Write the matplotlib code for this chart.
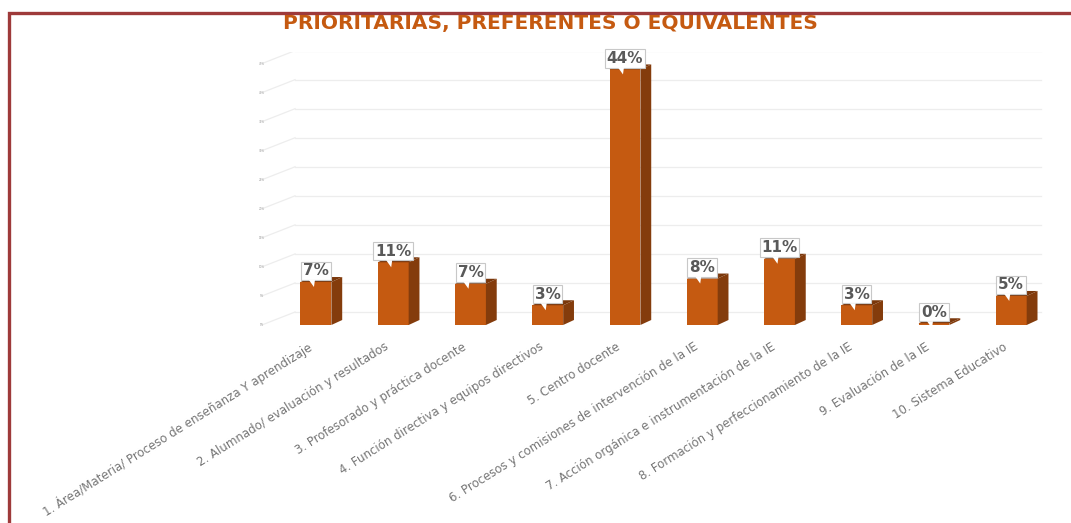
import numpy as np
import matplotlib.pyplot as plt
import matplotlib.transforms as mtransforms
from matplotlib.patches import Polygon, Rectangle

# Data
categorias = [
    "1. Área/Materia/ Proceso de enseñanza Y aprendizaje",
    "2. Alumnado/ evaluación y resultados",
    "3. Profesorado y práctica docente",
    "4. Función directiva y equipos directivos",
    "5. Centro docente",
    "6. Procesos y comisiones de intervención de la IE",
    "7. Acción orgánica e instrumentación de la IE",
    "8. Formación y perfeccionamiento de la IE",
    "9. Evaluación de la IE",
    "10. Sistema Educativo",
]
porcentajes = [7.4, 10.8, 7.1, 3.4, 44.0, 8.0, 11.4, 3.4, 0.3, 5.0]
etiquetas = ["7%", "11%", "7%", "3%", "44%", "8%", "11%", "3%", "0%", "5%"]
y_ticks = [0, 5, 10, 15, 20, 25, 30, 35, 40, 45]

naranja = "#C55A11"
lateral = "#843C0C"
superior = "#7A370B"
gris = "#595959"

plt.rcParams['font.family'] = ['DejaVu Sans']

fig = plt.figure(figsize=(10.71, 5.23), dpi=100)
ax = fig.add_axes([258 / 1071, 198 / 523, (1046 - 258) / 1071, (325 - 52) / 523])
x = np.arange(len(categorias))
ax.set_xlim(-0.75, 9.45)
ax.set_ylim(0, 47)

# perspective gridlines (side wall + back wall)
dx_w, dy_w = 0.43, 2.24
for t in y_ticks:
    ax.plot([-0.70, -0.70 + dx_w], [t, t + dy_w], color="#EDEDED", lw=0.9, zorder=0)
    ax.plot([-0.70 + dx_w, 9.38], [t + dy_w, t + dy_w], color="#EDEDED", lw=0.9, zorder=0)
    ax.text(-0.70, t, f"{t}%", fontsize=2, color="#999999", ha="center", va="center")

# 3D bars
w = 0.40
dx, dy = 0.14, 0.86
ax.bar(x, porcentajes, width=w, color=naranja, zorder=3)
for xi, v in zip(x, porcentajes):
    r = xi + w / 2
    l = xi - w / 2
    ax.add_patch(Polygon([[r, 0], [r + dx, dy], [r + dx, v + dy], [r, v]],
                         closed=True, facecolor=lateral, edgecolor="none", zorder=3))
    ax.add_patch(Polygon([[l, v], [l + dx, v + dy], [r + dx, v + dy], [r, v]],
                         closed=True, facecolor=superior, edgecolor="none", zorder=3))

# data labels (callouts)
for xi, v, lab in zip(x, porcentajes, etiquetas):
    ax.annotate(lab, (xi, v), xytext=(0, 8), textcoords="offset points",
                ha="center", va="center", fontsize=11, fontweight="bold", color=gris,
                bbox=dict(boxstyle="square,pad=0.12", fc="white", ec="#C8C8C8", lw=0.8),
                annotation_clip=False, zorder=5)
    # small callout pointer
    tr = fig.dpi_scale_trans + mtransforms.ScaledTranslation(xi, v, ax.transData)
    ax.add_patch(Polygon([[-0.07, 0.02], [-0.01, 0.02], [-0.02, -0.05]], closed=True,
                         transform=tr, facecolor="white", edgecolor="none",
                         clip_on=False, zorder=6))

ax.set_xticks(x)
ax.set_xticklabels(categorias, rotation=32, ha="right", rotation_mode="anchor",
                   fontsize=8.5, color="#767676")
ax.tick_params(axis="x", length=0, pad=11)
shift = mtransforms.ScaledTranslation(-0.09, 0, fig.dpi_scale_trans)
for lbl in ax.get_xticklabels():
    lbl.set_transform(lbl.get_transform() + shift)
ax.set_yticks([])
for s in ax.spines.values():
    s.set_visible(False)

fig.text(550 / 1071, 1 - 24 / 523, "PRIORITARIAS, PREFERENTES O EQUIVALENTES",
         ha="center", va="center", fontsize=14.5, fontweight="bold", color=naranja)

# frame
fig.patches.append(Rectangle((9 / 1071, -0.1), 1.2, (523 - 13) / 523 + 0.1,
                             transform=fig.transFigure, fill=False,
                             edgecolor="#9E3A3A", lw=2.4))

fig.savefig("out.png", dpi=100)
